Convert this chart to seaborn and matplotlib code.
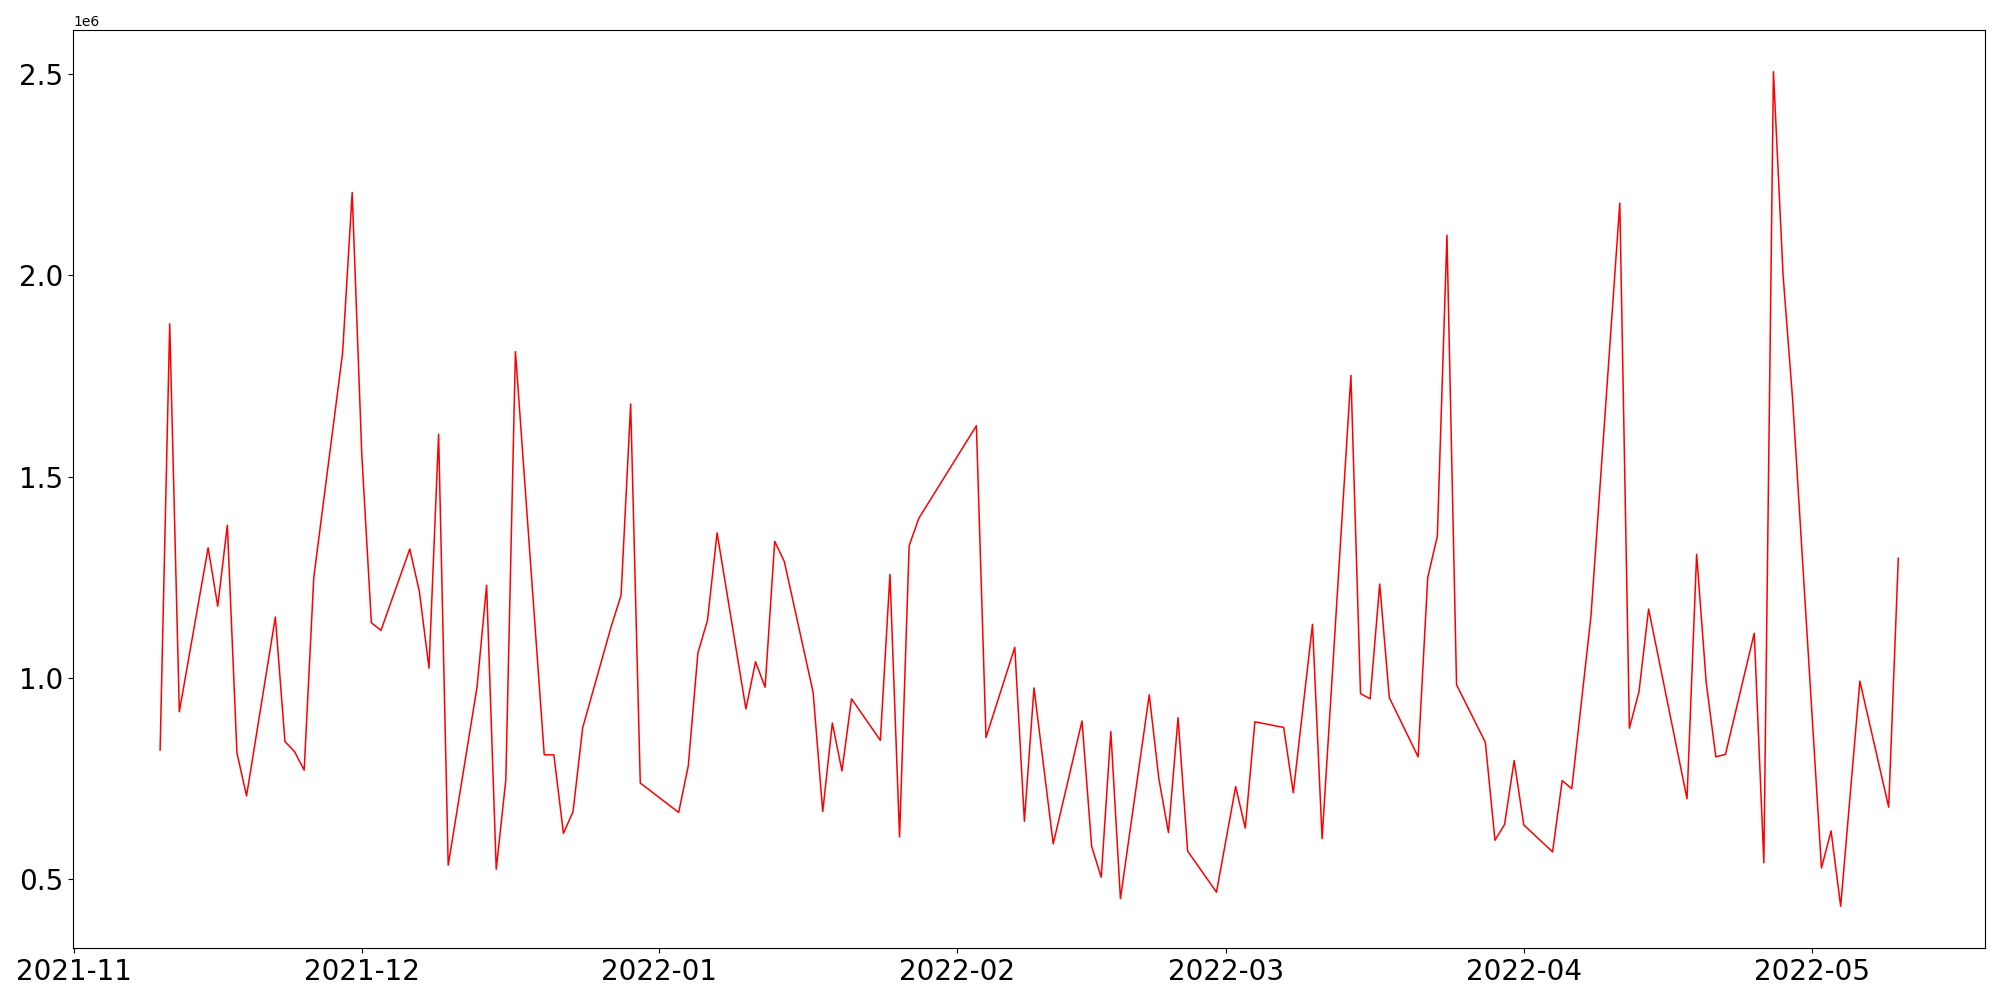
import pandas as pd
import matplotlib
matplotlib.use('Agg')
import matplotlib.pyplot as plt
import matplotlib.dates as mdates
import seaborn as sns

dates = [
    '2021-11-10', '2021-11-11', '2021-11-12', '2021-11-15', '2021-11-16', '2021-11-17',
    '2021-11-18', '2021-11-19', '2021-11-22', '2021-11-23', '2021-11-24', '2021-11-25',
    '2021-11-26', '2021-11-29', '2021-11-30', '2021-12-01', '2021-12-02', '2021-12-03',
    '2021-12-06', '2021-12-07', '2021-12-08', '2021-12-09', '2021-12-10', '2021-12-13',
    '2021-12-14', '2021-12-15', '2021-12-16', '2021-12-17', '2021-12-20', '2021-12-21',
    '2021-12-22', '2021-12-23', '2021-12-24', '2021-12-27', '2021-12-28', '2021-12-29',
    '2021-12-30', '2022-01-03', '2022-01-04', '2022-01-05', '2022-01-06', '2022-01-07',
    '2022-01-10', '2022-01-11', '2022-01-12', '2022-01-13', '2022-01-14', '2022-01-17',
    '2022-01-18', '2022-01-19', '2022-01-20', '2022-01-21', '2022-01-24', '2022-01-25',
    '2022-01-26', '2022-01-27', '2022-01-28', '2022-02-03', '2022-02-04', '2022-02-07',
    '2022-02-08', '2022-02-09', '2022-02-11', '2022-02-14', '2022-02-15', '2022-02-16',
    '2022-02-17', '2022-02-18', '2022-02-21', '2022-02-22', '2022-02-23', '2022-02-24',
    '2022-02-25', '2022-02-28', '2022-03-02', '2022-03-03', '2022-03-04', '2022-03-07',
    '2022-03-08', '2022-03-10', '2022-03-11', '2022-03-14', '2022-03-15', '2022-03-16',
    '2022-03-17', '2022-03-18', '2022-03-21', '2022-03-22', '2022-03-23', '2022-03-24',
    '2022-03-25', '2022-03-28', '2022-03-29', '2022-03-30', '2022-03-31', '2022-04-01',
    '2022-04-04', '2022-04-05', '2022-04-06', '2022-04-08', '2022-04-11', '2022-04-12',
    '2022-04-13', '2022-04-14', '2022-04-18', '2022-04-19', '2022-04-20', '2022-04-21',
    '2022-04-22', '2022-04-25', '2022-04-26', '2022-04-27', '2022-04-28', '2022-04-29',
    '2022-05-02', '2022-05-03', '2022-05-04', '2022-05-06', '2022-05-09', '2022-05-10',
]

# values in millions
volume = [
    0.821, 1.879, 0.916, 1.323, 1.178, 1.379,
    0.814, 0.707, 1.151, 0.842, 0.817, 0.771,
    1.249, 1.806, 2.205, 1.555, 1.137, 1.118,
    1.320, 1.214, 1.024, 1.605, 0.535, 0.977,
    1.230, 0.525, 0.747, 1.810, 0.809, 0.809,
    0.614, 0.668, 0.876, 1.130, 1.205, 1.680,
    0.739, 0.666, 0.782, 1.062, 1.143, 1.360,
    0.923, 1.040, 0.977, 1.339, 1.289, 0.964,
    0.668, 0.888, 0.769, 0.948, 0.845, 1.257,
    0.605, 1.328, 1.396, 1.626, 0.852, 1.076,
    0.644, 0.975, 0.588, 0.893, 0.582, 0.505,
    0.867, 0.452, 0.958, 0.750, 0.616, 0.901,
    0.570, 0.468, 0.730, 0.627, 0.891, 0.877,
    0.715, 1.133, 0.601, 1.751, 0.961, 0.948,
    1.233, 0.951, 0.804, 1.249, 1.352, 2.099,
    0.983, 0.840, 0.597, 0.636, 0.795, 0.635,
    0.568, 0.745, 0.725, 1.154, 2.179, 0.875,
    0.966, 1.171, 0.700, 1.307, 0.988, 0.804,
    0.810, 1.111, 0.541, 2.505, 2.001, 1.690,
    0.528, 0.620, 0.433, 0.992, 0.679, 1.297,
]

x = pd.to_datetime(dates)
y = [v * 1e6 for v in volume]

fig, ax = plt.subplots(figsize=(20, 10), dpi=100)
sns.lineplot(x=list(x), y=y, color='red', linewidth=1.1, ax=ax)

ax.xaxis.set_major_locator(mdates.MonthLocator())
ax.xaxis.set_major_formatter(mdates.DateFormatter('%Y-%m'))
ax.set_xlabel('')
ax.set_ylabel('')
plt.xticks(fontsize=20)
plt.yticks(fontsize=20)

plt.subplots_adjust(left=0.0366, right=0.9926, bottom=0.052, top=0.970)
plt.savefig('out.png')
